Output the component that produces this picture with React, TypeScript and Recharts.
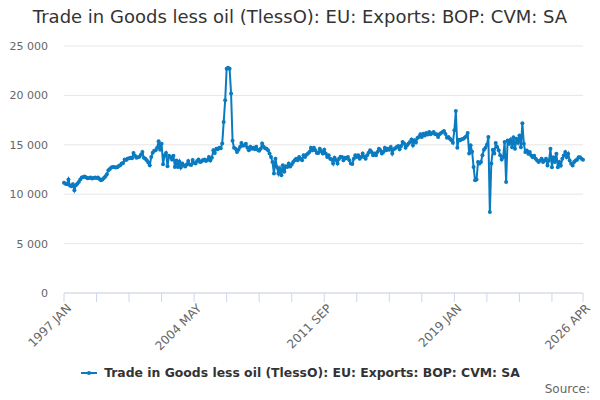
import { LineChart, Line, XAxis, YAxis, CartesianGrid } from 'recharts';

const COLOR = '#0b7bc1';
const SERIES_NAME = 'Trade in Goods less oil (TlessO): EU: Exports: BOP: CVM: SA';
const TITLE = 'Trade in Goods less oil (TlessO): EU: Exports: BOP: CVM: SA';

// monthly values (£ million)
const y1997 = [11170, 11070, 11000, 11480, 10870, 10800, 11000, 10400, 10900, 11050, 11240, 11500];
const y1998 = [11680, 11750, 11800, 11680, 11620, 11650, 11700, 11600, 11650, 11700, 11650, 11700];
const y1999 = [11550, 11400, 11500, 11650, 11800, 12010, 12420, 12550, 12690, 12750, 12760, 12700];
const y2000 = [12720, 12850, 12930, 13100, 13160, 13500, 13450, 13600, 13650, 13700, 13650, 14170];
const y2001 = [13900, 13700, 13750, 13800, 14000, 14280, 13700, 13600, 13430, 13200, 12930, 13770];
const y2002 = [14200, 14400, 14440, 14700, 15350, 14500, 15100, 13030, 13940, 14170, 12830, 13900];
const y2003 = [13770, 13500, 13900, 12760, 13400, 12760, 13300, 12690, 13100, 12900, 12800, 13000];
const y2004 = [13370, 13000, 12950, 13450, 13150, 13100, 13350, 13500, 13250, 13300, 13450, 13500];
const y2005 = [13350, 13450, 13770, 13400, 13700, 14440, 14170, 14610, 14550, 14710, 14650, 15120];
const y2006 = [17300, 19500, 22700, 22800, 22700, 20200, 15400, 14700, 14610, 14280, 14500, 14780];
const y2007 = [15180, 14900, 14950, 15100, 14700, 14440, 14800, 14600, 14700, 14550, 14800, 14500];
const y2008 = [14400, 14600, 15120, 14800, 14650, 14600, 14440, 14110, 13770, 13260, 12090, 13600];
const y2009 = [12760, 12100, 12600, 11920, 12930, 12260, 12830, 12760, 13100, 12800, 13000, 13260];
const y2010 = [13430, 13600, 13430, 13770, 13600, 13430, 13940, 13770, 14000, 14110, 14280, 14710];
const y2011 = [14440, 14710, 14440, 14170, 14170, 14600, 14350, 14110, 14500, 14110, 13770, 13940];
const y2012 = [13600, 13500, 13100, 13700, 13430, 13100, 13600, 13800, 13770, 13430, 13700, 13650];
const y2013 = [13770, 13430, 13100, 13050, 13600, 13940, 13770, 13940, 13600, 13770, 14110, 13770];
const y2014 = [13600, 13940, 14200, 14440, 14280, 13940, 14110, 13940, 14280, 14610, 14440, 14110];
const y2015 = [14280, 14700, 14440, 14610, 14500, 14780, 14110, 14550, 14650, 14780, 14880, 14550];
const y2016 = [14880, 15290, 15120, 14710, 14950, 15120, 15290, 15530, 14950, 15450, 15230, 15680];
const y2017 = [15800, 16060, 15800, 16130, 15950, 16200, 16030, 16300, 16060, 16200, 16300, 16060];
const y2018 = [16060, 15790, 16060, 16200, 16300, 16400, 16100, 15720, 15790, 15600, 15450, 15200];
const y2019 = [16470, 18420, 14710, 15500, 15450, 15550, 15600, 15720, 15860, 16200, 14110, 14950];
const y2020 = [14300, 12760, 11410, 11480, 13260, 13100, 13260, 13940, 14510, 14710, 15000, 15790];
const y2021 = [8210, 13100, 14510, 14110, 15180, 14780, 14440, 13940, 13500, 13770, 15290, 11240];
const y2022 = [15440, 15100, 15500, 14760, 15770, 14590, 15600, 15200, 15940, 14760, 17190, 15100];
const y2023 = [14260, 14430, 14090, 14260, 13920, 13750, 13900, 13590, 13420, 13250, 13420, 13590];
const y2024 = [13250, 13420, 13590, 12910, 13420, 14600, 12740, 13750, 13250, 14090, 12740, 13250];
const y2025 = [12910, 13590, 13920, 14260, 13750, 14090, 13420, 13080, 12910, 13250, 13420, 13490];
const y2026 = [13750, 13750, 13590, 13480];

const START_YEAR = 1997;
const monthNames = ['JAN', 'FEB', 'MAR', 'APR', 'MAY', 'JUN', 'JUL', 'AUG', 'SEP', 'OCT', 'NOV', 'DEC'];

const values = [
  ...y1997, ...y1998, ...y1999, ...y2000, ...y2001, ...y2002, ...y2003, ...y2004,
  ...y2005, ...y2006, ...y2007, ...y2008, ...y2009, ...y2010, ...y2011, ...y2012,
  ...y2013, ...y2014, ...y2015, ...y2016, ...y2017, ...y2018, ...y2019, ...y2020,
  ...y2021, ...y2022, ...y2023, ...y2024, ...y2025, ...y2026,
];

const data = values.map((v, i) => ({
  i,
  period: `${START_YEAR + Math.floor(i / 12)} ${monthNames[i % 12]}`,
  value: v,
}));

// tick marks every 22 months, labels on every 4th
const tickIdx = [0, 22, 44, 66, 88, 110, 132, 154, 176, 198, 220, 242, 264, 286, 308, 330, 351];
const labelIdx = [0, 88, 176, 264, 351];
const yTicks = [0, 5000, 10000, 15000, 20000, 25000];

const fmtThousands = (v: number) => String(v).replace(/\B(?=(\d{3})+(?!\d))/g, ' ');

export default function App() {
  return (
    <div
      style={{
        position: 'absolute',
        left: 0,
        top: 0,
        width: 600,
        height: 400,
        background: '#fff',
        fontFamily: '"DejaVu Sans", sans-serif',
      }}
    >
      <div
        style={{
          position: 'absolute',
          top: 6,
          width: 600,
          textAlign: 'center',
          fontSize: 18,
          color: '#333',
        }}
      >
        {TITLE}
      </div>
      <LineChart width={600} height={400} data={data} margin={{ top: 46, right: 17, bottom: 47, left: 0 }}>
        <CartesianGrid vertical={false} stroke="#e6e6e6" />
        <XAxis
          dataKey="i"
          type="number"
          domain={[0, 351]}
          ticks={tickIdx}
          interval={0}
          height={60}
          stroke="#ccd6eb"
          tickSize={9}
          tickMargin={1}
          angle={-45}
          textAnchor="end"
          tick={{ fill: '#666', fontSize: 12, dx: 2 }}
          tickFormatter={(v: number) => (labelIdx.includes(v) ? data[v].period : '')}
        />
        <YAxis
          domain={[0, 25000]}
          ticks={yTicks}
          width={64}
          axisLine={false}
          tickLine={false}
          tickSize={0}
          tickMargin={16}
          tick={{ fill: '#666', fontSize: 11 }}
          tickFormatter={fmtThousands}
        />
        <Line
          dataKey="value"
          stroke={COLOR}
          strokeWidth={2}
          dot={{ r: 2, fill: COLOR, stroke: COLOR, strokeWidth: 0 }}
          isAnimationActive={false}
        />
      </LineChart>
      <div
        style={{
          position: 'absolute',
          top: 365,
          width: 600,
          display: 'flex',
          justifyContent: 'center',
          alignItems: 'center',
        }}
      >
        <svg width={20} height={12} style={{ marginRight: 4 }}>
          <line x1={1} y1={6} x2={17} y2={6} stroke={COLOR} strokeWidth={2} />
          <circle cx={9} cy={6} r={2} fill={COLOR} />
        </svg>
        <span style={{ fontWeight: 'bold', fontSize: 12.4, color: '#333' }}>{SERIES_NAME}</span>
      </div>
      <div style={{ position: 'absolute', right: 10, top: 382, fontSize: 12, color: '#666' }}>Source:</div>
    </div>
  );
}
